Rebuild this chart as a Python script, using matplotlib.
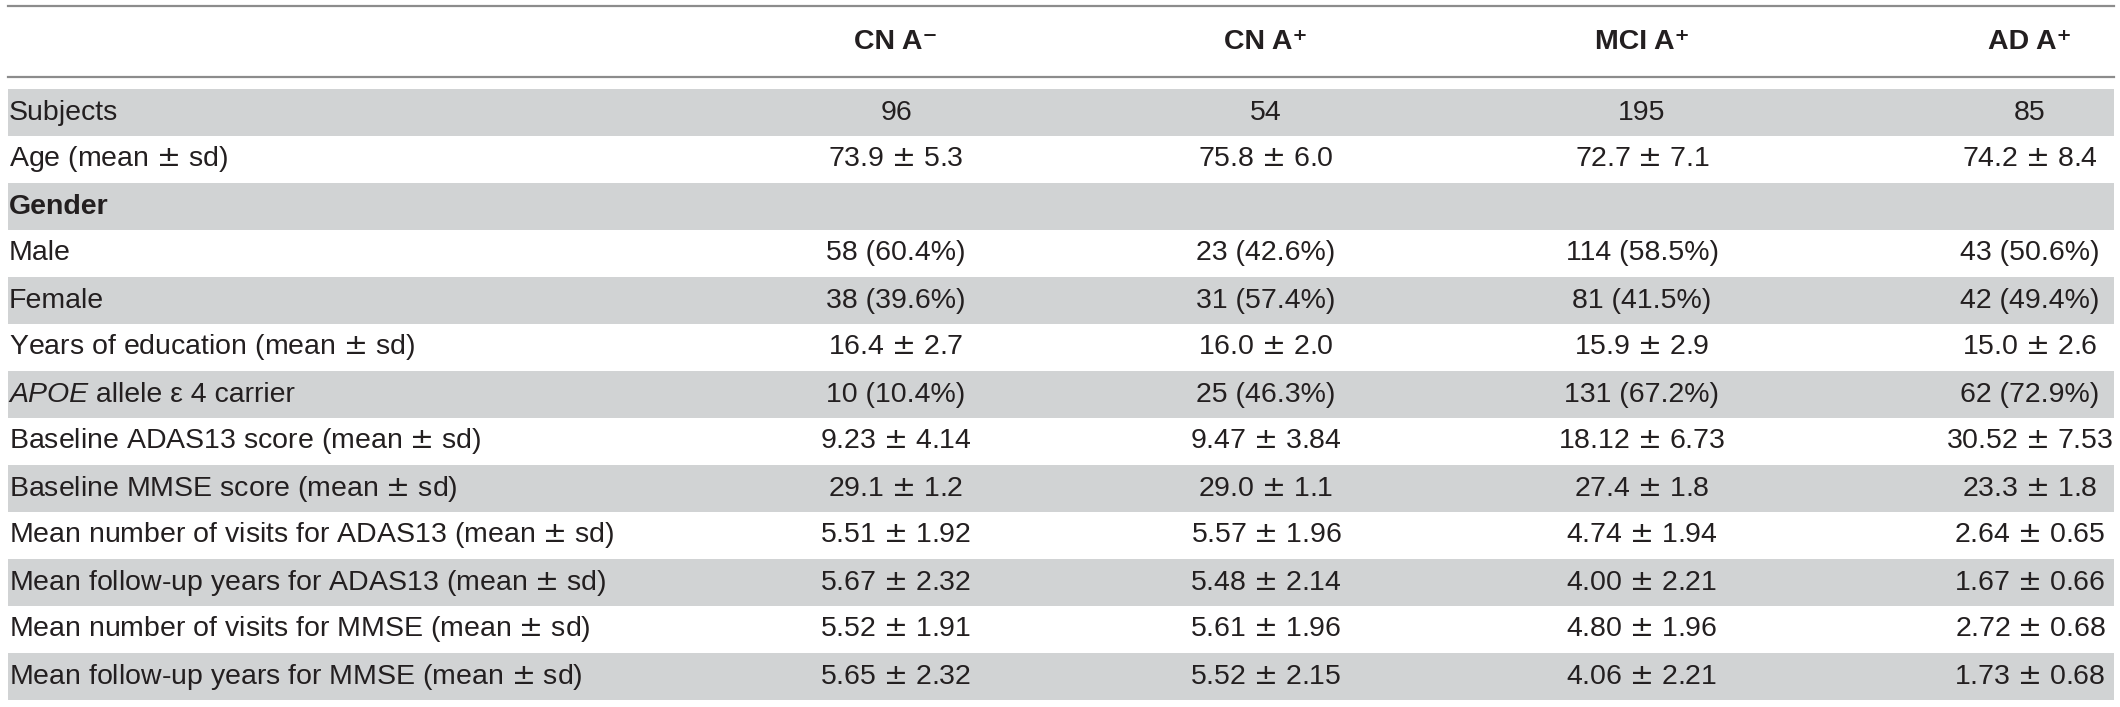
import matplotlib.pyplot as plt
from matplotlib.patches import Rectangle

# table content
groups = ["CN A\u207b", "CN A\u207a", "MCI A\u207a", "AD A\u207a"]
row_labels = [
    "Subjects",
    "Age (mean \u00b1 sd)",
    "Gender",
    "Male",
    "Female",
    "Years of education (mean \u00b1 sd)",
    "APOE",  # italic part, rest added below
    "Baseline ADAS13 score (mean \u00b1 sd)",
    "Baseline MMSE score (mean \u00b1 sd)",
    "Mean number of visits for ADAS13 (mean \u00b1 sd)",
    "Mean follow-up years for ADAS13 (mean \u00b1 sd)",
    "Mean number of visits for MMSE (mean \u00b1 sd)",
    "Mean follow-up years for MMSE (mean \u00b1 sd)",
]
cn_neg = ["96", "73.9 \u00b1 5.3", "", "58 (60.4%)", "38 (39.6%)", "16.4 \u00b1 2.7",
          "10 (10.4%)", "9.23 \u00b1 4.14", "29.1 \u00b1 1.2", "5.51 \u00b1 1.92",
          "5.67 \u00b1 2.32", "5.52 \u00b1 1.91", "5.65 \u00b1 2.32"]
cn_pos = ["54", "75.8 \u00b1 6.0", "", "23 (42.6%)", "31 (57.4%)", "16.0 \u00b1 2.0",
          "25 (46.3%)", "9.47 \u00b1 3.84", "29.0 \u00b1 1.1", "5.57 \u00b1 1.96",
          "5.48 \u00b1 2.14", "5.61 \u00b1 1.96", "5.52 \u00b1 2.15"]
mci_pos = ["195", "72.7 \u00b1 7.1", "", "114 (58.5%)", "81 (41.5%)", "15.9 \u00b1 2.9",
           "131 (67.2%)", "18.12 \u00b1 6.73", "27.4 \u00b1 1.8", "4.74 \u00b1 1.94",
           "4.00 \u00b1 2.21", "4.80 \u00b1 1.96", "4.06 \u00b1 2.21"]
ad_pos = ["85", "74.2 \u00b1 8.4", "", "43 (50.6%)", "42 (49.4%)", "15.0 \u00b1 2.6",
          "62 (72.9%)", "30.52 \u00b1 7.53", "23.3 \u00b1 1.8", "2.64 \u00b1 0.65",
          "1.67 \u00b1 0.66", "2.72 \u00b1 0.68", "1.73 \u00b1 0.68"]
columns = [cn_neg, cn_pos, mci_pos, ad_pos]

W, H = 2120, 707
fam = ["Liberation Sans", "DejaVu Sans"]
fs = 20.5
txt_color = "#231f20"
band_color = "#d1d3d4"
line_color = "#8c8c8c"


def pm(s):
    # the source uses the wide math plus-minus sign
    return s.replace("\u00b1", r"$\pm$")


fig = plt.figure(figsize=(W / 100, H / 100), dpi=100)
ax = fig.add_axes([0, 0, 1, 1])
ax.set_xlim(0, W)
ax.set_ylim(H, 0)
ax.axis("off")

left, right = 8, 2114
col_x = [896, 1266, 1642, 2030]
row_top = 89
row_h = 47

# rules around the header
ax.plot([left, right], [6, 6], color=line_color, lw=1.6)
ax.plot([left, right], [77, 77], color=line_color, lw=1.6)

for x, g in zip(col_x, groups):
    ax.text(x, 42, g, ha="center", va="center", fontsize=fs, fontweight="bold",
            color=txt_color, family=fam)

for i, label in enumerate(row_labels):
    y0 = row_top + i * row_h
    yc = y0 + row_h / 2
    if i % 2 == 0:
        ax.add_patch(Rectangle((left, y0), right - left, row_h, color=band_color, lw=0))
    if label == "APOE":
        t = ax.text(left + 1, yc, label, ha="left", va="center", fontsize=fs,
                    style="italic", color=txt_color, family=fam)
        ax.annotate(" allele \u03b5 4 carrier", xy=(1, 0), xycoords=t, ha="left", va="bottom",
                    fontsize=fs, color=txt_color, family=fam)
    else:
        ax.text(left + 1, yc, pm(label), ha="left", va="center", fontsize=fs,
                fontweight="bold" if label == "Gender" else "normal",
                color=txt_color, family=fam)
    for x, col in zip(col_x, columns):
        ax.text(x, yc, pm(col[i]), ha="center", va="center", fontsize=fs,
                color=txt_color, family=fam)

fig.savefig("out.png", dpi=100)
